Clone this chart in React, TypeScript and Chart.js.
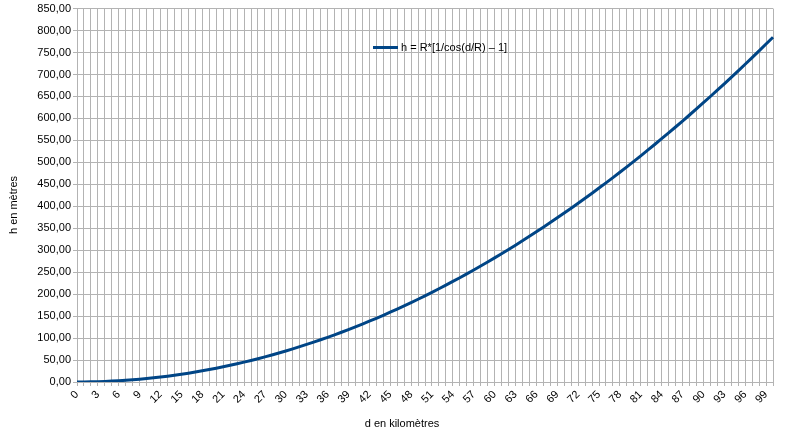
import React, { useEffect, useRef } from "react";
import { Chart, registerables } from "chart.js";

Chart.register(...registerables);

const distancesKm: string[] = Array.from({ length: 101 }, (_, i) => String(i));

const heightsM: number[] = [
  0, 0.1, 0.3, 0.7, 1.3, 2.0, 2.8, 3.8, 5.0, 6.4,
  7.8, 9.5, 11.3, 13.3, 15.4, 17.7, 20.1, 22.7, 25.4, 28.3,
  31.4, 34.6, 38.0, 41.5, 45.2, 49.1, 53.1, 57.2, 61.5, 66.0,
  70.6, 75.4, 80.4, 85.5, 90.7, 96.1, 101.7, 107.4, 113.3, 119.4,
  125.6, 131.9, 138.4, 145.1, 151.9, 158.9, 166.1, 173.4, 180.8, 188.4,
  196.2, 204.1, 212.2, 220.5, 228.9, 237.4, 246.1, 255.0, 264.0, 273.2,
  282.5, 292.0, 301.7, 311.5, 321.5, 331.6, 341.9, 352.3, 362.9, 373.7,
  384.6, 395.6, 406.9, 418.2, 429.8, 441.5, 453.3, 465.3, 477.5, 489.8,
  502.3, 514.9, 527.7, 540.7, 553.8, 567.0, 580.5, 594.0, 607.8, 621.7,
  635.7, 649.9, 664.3, 678.8, 693.5, 708.3, 723.3, 738.5, 753.8, 769.3,
  784.9,
];

const seriesLabel = "h = R*[1/cos(d/R) \u2013 1]";
const xTitle = "d en kilomètres";
const yTitle = "h en mètres";
const yMax = 850;
const yStep = 50;
const labelEvery = 3;

const FONT = "Liberation Sans, Arial, sans-serif";
const LINE_COLOR = "#004586";
const GRID_COLOR = "#b3b3b3";

const overlayPlugin = {
  id: "overlay",
  afterDraw(chart: any) {
    const ctx = chart.ctx;
    const area = chart.chartArea;
    ctx.save();
    ctx.fillStyle = "#000";
    ctx.font = `11px ${FONT}`;
    // legend
    ctx.strokeStyle = LINE_COLOR;
    ctx.lineWidth = 3;
    ctx.beginPath();
    ctx.moveTo(373, 47.5);
    ctx.lineTo(398, 47.5);
    ctx.stroke();
    ctx.textAlign = "left";
    ctx.textBaseline = "middle";
    ctx.fillText(seriesLabel, 401, 47.5);
    // x title
    ctx.textAlign = "center";
    ctx.fillText(xTitle, 402, 424);
    // y title
    ctx.translate(14, 205);
    ctx.rotate(-Math.PI / 2);
    ctx.fillText(yTitle, 0, 0);
    ctx.restore();
  },
};

export default function App() {
  const canvasRef = useRef<HTMLCanvasElement | null>(null);

  useEffect(() => {
    document.body.style.margin = "0";
    const canvas = canvasRef.current;
    if (!canvas) return;
    const chart = new Chart(canvas, {
      type: "line",
      data: {
        labels: distancesKm,
        datasets: [
          {
            label: seriesLabel,
            data: heightsM,
            borderColor: LINE_COLOR,
            backgroundColor: LINE_COLOR,
            borderWidth: 3,
            pointRadius: 0,
            tension: 0,
            fill: false,
          },
        ],
      },
      options: {
        animation: false,
        responsive: false,
        maintainAspectRatio: false,
        layout: { padding: { left: 0, right: 27, top: 7, bottom: 0 } },
        plugins: {
          legend: { display: false },
          tooltip: { enabled: false },
        },
        scales: {
          x: {
            type: "category",
            offset: false,
            grid: {
              color: GRID_COLOR,
              lineWidth: 1,
              drawTicks: true,
              tickLength: 4,
            },
            border: { color: GRID_COLOR },
            ticks: {
              autoSkip: false,
              minRotation: 45,
              maxRotation: 45,
              padding: 2,
              color: "#000",
              font: { family: FONT, size: 11 },
              callback: function (_v: any, i: number) {
                return i % labelEvery === 0 ? distancesKm[i] : "";
              },
            },
            afterFit: (scale: any) => {
              scale.height = 51;
            },
          },
          y: {
            min: 0,
            max: yMax,
            grid: {
              color: GRID_COLOR,
              lineWidth: 1,
              drawTicks: true,
              tickLength: 4,
            },
            border: { color: GRID_COLOR },
            ticks: {
              stepSize: yStep,
              padding: 2,
              color: "#000",
              font: { family: FONT, size: 11 },
              callback: (v: any) => Number(v).toFixed(2).replace(".", ","),
            },
            afterFit: (scale: any) => {
              scale.width = 77;
            },
          },
        },
      },
      plugins: [overlayPlugin],
    });
    return () => chart.destroy();
  }, []);

  return (
    <div style={{ width: 800, height: 433 }}>
      <canvas ref={canvasRef} width={800} height={433} style={{ display: "block" }} />
    </div>
  );
}
